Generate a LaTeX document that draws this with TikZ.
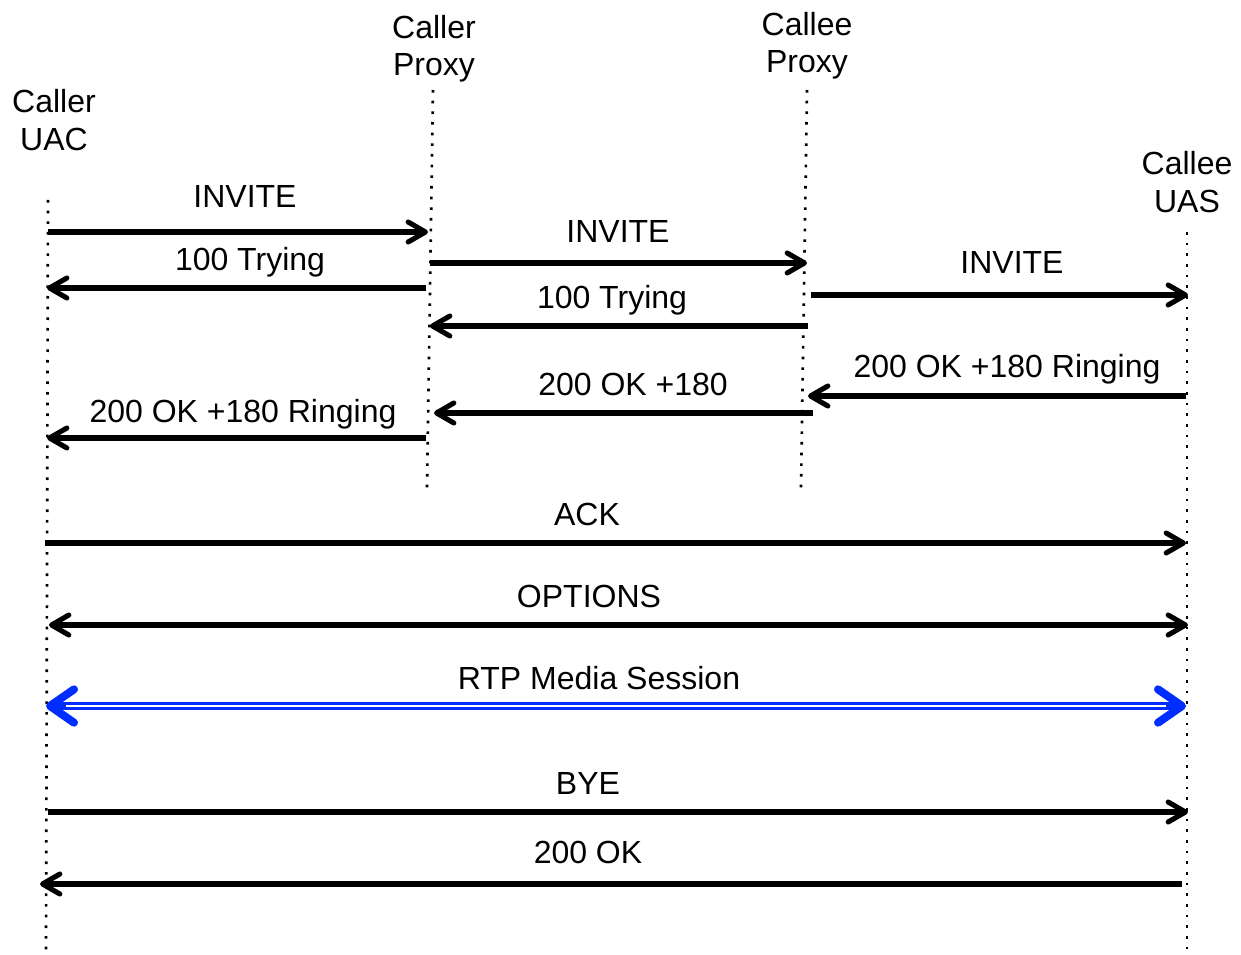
\documentclass[tikz,border=0pt]{standalone}
\usepackage{fontspec}
\setmainfont{Liberation Sans}
\usetikzlibrary{arrows.meta}
\definecolor{rtpblue}{RGB}{0,45,255}
\begin{document}
\begin{tikzpicture}[x=0.75pt,y=-0.75pt,
  lifeline/.style={line width=2pt, dash pattern=on 2pt off 6pt},
  msg/.style={line width=3.8pt, -{Straight Barb[length=13pt,width=15pt,round]}},
  bimsg/.style={line width=3.8pt, {Straight Barb[length=13pt,width=15pt,round]}-{Straight Barb[length=13pt,width=15pt,round]}},
  rtp/.style={draw=rtpblue, line width=6pt,
    {Straight Barb[length=18pt,width=25pt,round]}-{Straight Barb[length=18pt,width=25pt,round]},
    postaction={draw=white, line width=1.8pt, arrows=-, shorten <=15pt, shorten >=15pt}},
  lbl/.style={font=\fontsize{24}{28}\selectfont, anchor=base, inner sep=0pt},
  hdr/.style={font=\fontsize{24}{28}\selectfont, align=center, inner sep=0pt}]
\useasboundingbox (0,0) rectangle (1241,955);

% headers
\node[hdr] (huac) at (54,120) {Caller\\UAC};
\node[hdr] (hcp) at (434,49) {Caller\\Proxy};
\node[hdr] (hcep) at (807,46) {Callee\\Proxy};
\node[hdr] (huas) at (1187,182) {Callee\\UAS};

% lifelines
\coordinate (uacT) at (48,200); \coordinate (uacB) at (46,950);
\coordinate (cpT) at (433,90);  \coordinate (cpB) at (427,488);
\coordinate (cepT) at (807,90); \coordinate (cepB) at (801,488);
\coordinate (uasT) at (1187,232); \coordinate (uasB) at (1187,950);
\draw[lifeline] (uacT) -- (uacB);
\draw[lifeline] (cpT) -- (cpB);
\draw[lifeline] (cepT) -- (cepB);
\draw[lifeline] (uasT) -- (uasB);

% message endpoints
\coordinate (m1s) at (48,232);   \coordinate (m1e) at (428,232);
\coordinate (m2s) at (426,288);  \coordinate (m2e) at (47,288);
\coordinate (m3s) at (430,263);  \coordinate (m3e) at (807,263);
\coordinate (m4s) at (808,326);  \coordinate (m4e) at (430,326);
\coordinate (m5s) at (811,295);  \coordinate (m5e) at (1188,295);
\coordinate (m6s) at (1186,396); \coordinate (m6e) at (808,396);
\coordinate (m7s) at (813,413);  \coordinate (m7e) at (434,413);
\coordinate (m8s) at (426,438);  \coordinate (m8e) at (47,438);
\coordinate (m9s) at (45,543);   \coordinate (m9e) at (1186,543);
\coordinate (m10s) at (49,625);  \coordinate (m10e) at (1188,625);
\coordinate (m11s) at (46,706);  \coordinate (m11e) at (1186,706);
\coordinate (m12s) at (48,812);  \coordinate (m12e) at (1188,812);
\coordinate (m13s) at (1182,884); \coordinate (m13e) at (40,884);

\draw[msg] (m1s) -- (m1e);
\draw[msg] (m2s) -- (m2e);
\draw[msg] (m3s) -- (m3e);
\draw[msg] (m4s) -- (m4e);
\draw[msg] (m5s) -- (m5e);
\draw[msg] (m6s) -- (m6e);
\draw[msg] (m7s) -- (m7e);
\draw[msg] (m8s) -- (m8e);
\draw[msg] (m9s) -- (m9e);
\draw[bimsg] (m10s) -- (m10e);
\draw[rtp] (m11s) -- (m11e);
\draw[msg] (m12s) -- (m12e);
\draw[msg] (m13s) -- (m13e);

% labels
\node[lbl] (l1) at (245,208) {INVITE};
\node[lbl] (l2) at (250,271) {100 Trying};
\node[lbl] (l3) at (618,243) {INVITE};
\node[lbl] (l4) at (612,309) {100 Trying};
\node[lbl] (l5) at (1012,274) {INVITE};
\node[lbl] (l6) at (1007,377) {200 OK +180 Ringing};
\node[lbl] (l7) at (633,395) {200 OK +180};
\node[lbl] (l8) at (243,422) {200 OK +180 Ringing};
\node[lbl] (l9) at (587,525) {ACK};
\node[lbl] (l10) at (589,607) {OPTIONS};
\node[lbl] (l11) at (599,689) {RTP Media Session};
\node[lbl] (l12) at (588,794) {BYE};
\node[lbl] (l13) at (588,863) {200 OK};
\end{tikzpicture}
\end{document}
